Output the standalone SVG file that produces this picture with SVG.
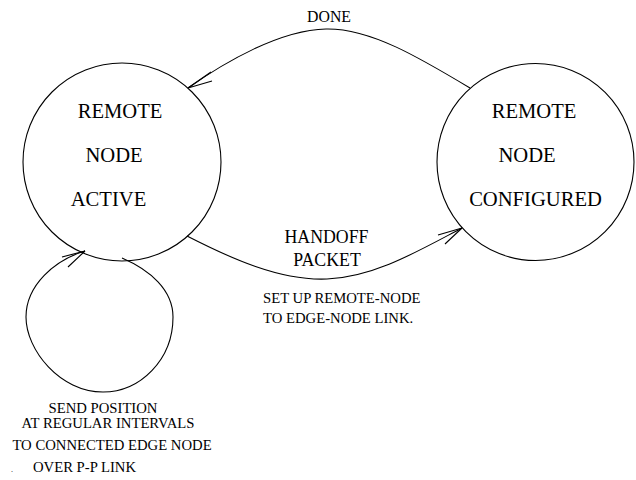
<svg xmlns="http://www.w3.org/2000/svg" width="636" height="480" viewBox="0 0 636 480">
<style>
.st{fill:none;stroke:#000;stroke-width:1.1}
text{font-family:'Liberation Serif','DejaVu Serif','Times New Roman',serif;fill:#000;text-anchor:middle}
.big{font-size:20.6px}
.mid{font-size:17.8px}
.sm{font-size:14.7px}
</style>
<rect width="636" height="480" fill="#fff"/>
<g id="node-active" font-family="Liberation Serif, serif">
<circle class="st" cx="122" cy="162" r="99"/>
<text class="big" x="120" y="118">REMOTE</text>
<text class="big" x="114" y="162">NODE</text>
<text class="big" x="108.5" y="206">ACTIVE</text>
</g>
<g id="node-configured" font-family="Liberation Serif, serif">
<circle class="st" cx="535.5" cy="162" r="98.5"/>
<text class="big" x="534" y="118">REMOTE</text>
<text class="big" x="527" y="162">NODE</text>
<text class="big" x="535.5" y="206">CONFIGURED</text>
</g>
<g id="connectors">
<path class="st" d="M470,88 C420,58 370,28 326,29 C280,30 225,62 188,88"/>
<path class="st" d="M211,72 L188,88 L212,81"/>
<path class="st" d="M187,236 C230,258 280,281 327,279 C375,277 420,250 462,228"/>
<path class="st" d="M438,235 L462,228 L445,244"/>
<path class="st" d="M122,258 C150,270 173,290 173,317 C173,360 140,392 103,392 C60,392 26,350 26,317 C26,285 55,260 85,251"/>
<path class="st" d="M62,257 L85,251 L68,267"/>
</g>
<g id="labels" font-family="Liberation Serif, serif">
<text style="font-size:15.8px" x="329" y="22">DONE</text>
<text class="mid" x="326.5" y="243">HANDOFF</text>
<text class="mid" x="327" y="266">PACKET</text>
<text class="sm" style="text-anchor:start" x="263" y="302.7">SET UP REMOTE-NODE</text>
<text class="sm" style="text-anchor:start" x="263" y="322.7">TO EDGE-NODE LINK.</text>
<text class="sm" x="103" y="413">SEND POSITION</text>
<text class="sm" x="108" y="428">AT REGULAR INTERVALS</text>
<text class="sm" x="112" y="450">TO CONNECTED EDGE NODE</text>
<text class="sm" x="84.5" y="472">OVER P-P LINK</text>
<text style="font-size:8px" x="12" y="472">.</text>
</g>
</svg>
